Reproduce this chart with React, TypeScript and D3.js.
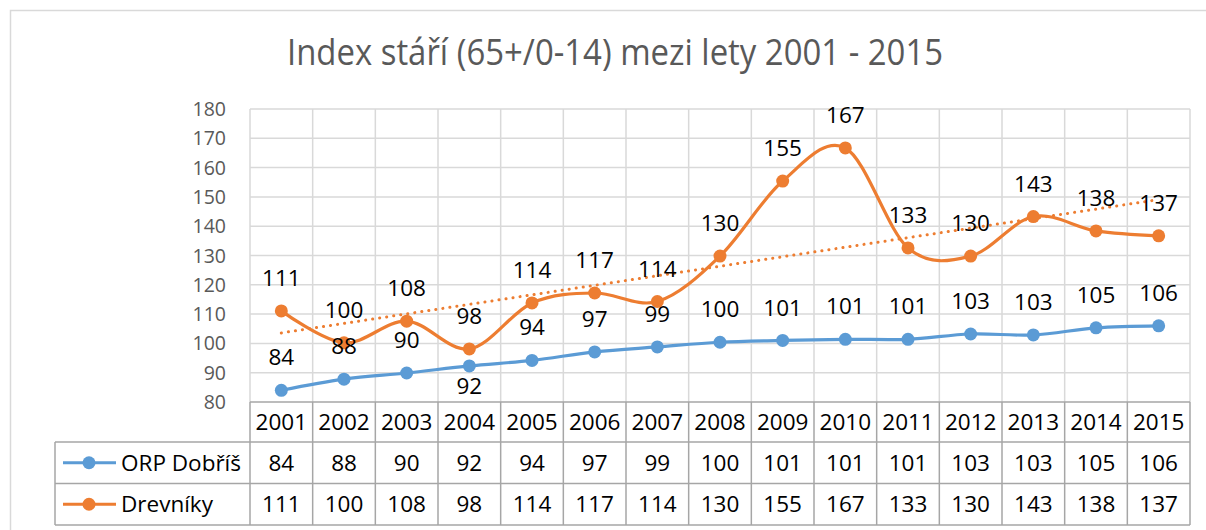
import React from 'react';
import * as d3 from 'd3';

const years = ['2001', '2002', '2003', '2004', '2005', '2006', '2007', '2008', '2009', '2010', '2011', '2012', '2013', '2014', '2015'];
const dobrisValues = [84.0, 87.8, 89.9, 92.3, 94.2, 97.1, 98.8, 100.4, 101.0, 101.4, 101.4, 103.2, 102.9, 105.3, 106.0];
const drevnikyValues = [111.1, 100.2, 107.6, 98.1, 113.8, 117.2, 114.3, 129.8, 155.4, 166.7, 132.6, 129.8, 143.3, 138.4, 136.7];
// Excel moved this one label under its point
const dobrisLabelBelow = ['2004'];
const yTicks = [80, 90, 100, 110, 120, 130, 140, 150, 160, 170, 180];

const title = 'Index stáří (65+/0-14) mezi lety 2001 - 2015';
const BLUE = '#5B9BD5';
const ORANGE = '#ED7D31';
const FONT = "'Open Sans', 'Noto Sans', sans-serif";

const series = [
  { name: 'ORP Dobříš', color: BLUE, values: dobrisValues, below: dobrisLabelBelow },
  { name: 'Drevníky', color: ORANGE, values: drevnikyValues, below: [] as string[] },
];

export default function App() {
  const width = 1206;
  const height = 530;
  const plot = { left: 250, right: 1190, top: 109, bottom: 402 };
  const rowH = [40, 41.5, 41.5];
  const legendLeft = 55;

  const x = d3.scaleBand<string>().domain(years).range([plot.left, plot.right]);
  const cx = (yr: string) => (x(yr) ?? 0) + x.bandwidth() / 2;
  const y = d3.scaleLinear().domain([80, 180]).range([plot.bottom, plot.top]);

  const line = d3
    .line<number>()
    .x((_, i) => cx(years[i]))
    .y((d) => y(d))
    .curve(d3.curveCardinal.tension(0));

  // linear trendline for Drevníky
  const idx = drevnikyValues.map((_, i) => i);
  const mx = d3.mean(idx) as number;
  const my = d3.mean(drevnikyValues) as number;
  const slope =
    d3.sum(idx, (i) => (i - mx) * (drevnikyValues[i] - my)) / d3.sum(idx, (i) => (i - mx) * (i - mx));
  const trendAt = (i: number) => my + slope * (i - mx);
  const last = years.length - 1;

  const headerTop = plot.bottom;
  const row1Top = headerTop + rowH[0];
  const row2Top = row1Top + rowH[1];
  const tableBottom = row2Top + rowH[2];
  const tableLine = '#A6A6A6';
  const grid = '#D9D9D9';
  const bounds = years.map((yr) => x(yr) as number).concat([plot.right]);

  return (
    <svg width={width} height={height} style={{ position: 'absolute', left: 0, top: 0, background: '#fff' }} fontFamily={FONT}>
      <rect x={10.5} y={10.5} width={1210} height={540} fill="#fff" stroke={grid} strokeWidth={1.5} />

      <text x={615} y={65} textAnchor="middle" fontSize={37} fill="#595959" textLength={656} lengthAdjust="spacingAndGlyphs">
        {title}
      </text>

      {/* grid */}
      {yTicks.filter((t) => t !== 80).map((t) => (
        <line key={t} x1={plot.left} x2={plot.right} y1={y(t)} y2={y(t)} stroke={grid} strokeWidth={1.5} />
      ))}
      {bounds.map((bx, i) => (
        <line key={i} x1={bx} x2={bx} y1={plot.top} y2={plot.bottom} stroke={grid} strokeWidth={1.5} />
      ))}

      {/* y axis labels */}
      {yTicks.map((t) => (
        <text key={t} x={226} y={y(t)} dy="0.36em" textAnchor="end" fontSize={19.5} fill="#595959">
          {t}
        </text>
      ))}

      {/* trendline */}
      <line
        x1={cx(years[0])}
        y1={y(trendAt(0))}
        x2={cx(years[last])}
        y2={y(trendAt(last))}
        stroke={ORANGE}
        strokeWidth={3}
        strokeDasharray="0.1 7"
        strokeLinecap="round"
      />

      {/* series */}
      {series.map((s) => (
        <g key={s.name}>
          <path d={line(s.values) ?? ''} fill="none" stroke={s.color} strokeWidth={3.2} strokeLinecap="round" />
          {s.values.map((v, i) => (
            <circle key={i} cx={cx(years[i])} cy={y(v)} r={6.5} fill={s.color} />
          ))}
        </g>
      ))}
      {series.map((s) => (
        <g key={s.name + '-labels'}>
          {s.values.map((v, i) => {
            const below = s.below.includes(years[i]);
            return (
              <text
                key={i}
                x={cx(years[i])}
                y={y(v) + (below ? 20 : -33)}
                dy="0.36em"
                textAnchor="middle"
                fontSize={22.5}
                fill="#000"
              >
                {Math.round(v)}
              </text>
            );
          })}
        </g>
      ))}

      {/* data table */}
      <g stroke={tableLine} strokeWidth={1.5}>
        <line x1={plot.left} x2={plot.right} y1={headerTop} y2={headerTop} />
        <line x1={legendLeft} x2={plot.right} y1={row1Top} y2={row1Top} />
        <line x1={legendLeft} x2={plot.right} y1={row2Top} y2={row2Top} />
        <line x1={legendLeft} x2={plot.right} y1={tableBottom} y2={tableBottom} />
        <line x1={legendLeft} x2={legendLeft} y1={row1Top} y2={tableBottom} />
        {bounds.map((bx, i) => (
          <line key={i} x1={bx} x2={bx} y1={headerTop} y2={tableBottom} />
        ))}
      </g>
      {years.map((yr) => (
        <text key={yr} x={cx(yr)} y={headerTop + rowH[0] / 2} dy="0.36em" textAnchor="middle" fontSize={22.5} fill="#000">
          {yr}
        </text>
      ))}
      {series.map((s, si) => {
        const top = si === 0 ? row1Top : row2Top;
        const mid = top + rowH[si + 1] / 2;
        return (
          <g key={s.name + '-row'}>
            <line x1={63} x2={116} y1={mid} y2={mid} stroke={s.color} strokeWidth={3.2} />
            <circle cx={89} cy={mid} r={6.5} fill={s.color} />
            <text x={121} y={mid} dy="0.36em" fontSize={22.5} fill="#000">
              {s.name}
            </text>
            {s.values.map((v, i) => (
              <text key={i} x={cx(years[i])} y={mid} dy="0.36em" textAnchor="middle" fontSize={22.5} fill="#000">
                {Math.round(v)}
              </text>
            ))}
          </g>
        );
      })}
    </svg>
  );
}
